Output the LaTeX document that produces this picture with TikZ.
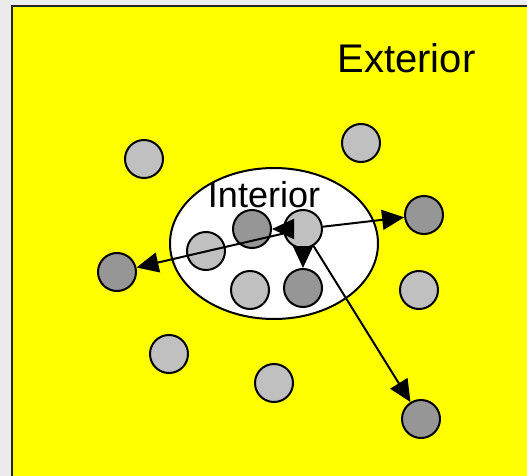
\documentclass[tikz,border=0pt]{standalone}
\usepackage{fontspec}
\setmainfont{Liberation Sans}
\usetikzlibrary{arrows.meta,shapes.geometric}
\definecolor{bgpage}{HTML}{ECECEC}
\definecolor{yell}{HTML}{FFFF00}
\definecolor{lightdot}{HTML}{C0C0C0}
\definecolor{darkdot}{HTML}{969696}
\begin{document}
\begin{tikzpicture}[x=1pt,y=-1pt,
  dot/.style={circle,draw=black,line width=2pt,minimum size=38pt,inner sep=0pt},
  lt/.style={dot,fill=lightdot},
  dk/.style={dot,fill=darkdot},
  conn/.style={line width=2pt,-{Triangle[length=22pt,width=20pt]}},
  lbl/.style={font=\fontsize{36}{40}\selectfont,anchor=base,inner sep=0pt}]
\useasboundingbox (0,0) rectangle (527,476);
\fill[bgpage] (0,0) rectangle (527,476);
\draw[fill=yell,line width=2.2pt,draw=black!85] (12,6) rectangle (560,520);
\node[ellipse,draw=black,fill=white,line width=2pt,minimum width=208pt,minimum height=151pt,inner sep=0pt] (ell) at (274,243.5) {};
\node[lbl,font=\fontsize{40}{44}\selectfont] (ext) at (406.5,73) {Exterior};
% circles
\node[lt] (c1) at (144,159) {};
\node[lt] (c2) at (361,143) {};
\node[lt] (i1) at (206,251) {};
\node[dk] (i2) at (252,229) {};
\node[lt] (ctr) at (303,229) {};
\node[lt] (i4) at (250,290) {};
\node[dk] (i5) at (303,288) {};
\node[dk] (r1) at (424,215) {};
\node[dk] (l1) at (117,272) {};
\node[lt] (r2) at (419,290) {};
\node[lt] (b1) at (169,354) {};
\node[lt] (b2) at (274,383) {};
\node[dk] (br) at (421,419) {};
\node[lbl] (int) at (264,207) {Interior};
% connectors
\draw[conn] (ctr) -- (r1);
\draw[conn] (ctr) -- (l1);
\draw[conn] (ctr) -- (i2);
\draw[conn] (ctr) -- (i5);
\draw[conn] (ctr) -- (br);
\end{tikzpicture}
\end{document}
